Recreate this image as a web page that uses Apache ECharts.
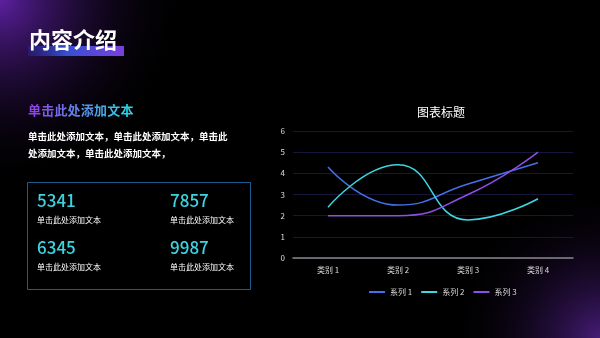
<!DOCTYPE html>
<html><head><meta charset="utf-8">
<script src="https://cdn.jsdelivr.net/npm/echarts@6/dist/echarts.min.js"></script>
<style>html,body{margin:0;padding:0;background:#000;}#c{width:600px;height:338px;}</style>
</head><body><div id="c"></div>
<script>
const categories = ['类别 1', '类别 2', '类别 3', '类别 4'];
const seriesNames = ['系列 1', '系列 2', '系列 3'];
const series1 = [4.3, 2.5, 3.5, 4.5];
const series2 = [2.4, 4.4, 1.8, 2.8];
const series3 = [2.0, 2.0, 3.0, 5.0];
const yTicks = [0, 1, 2, 3, 4, 5, 6];
const statValues = ['5341', '7857', '6345', '9987'];
const statLabel = '单击此处添加文本';
const subHeading = '单击此处添加文本';

const font = '"Noto Sans CJK SC", sans-serif';
const chart = echarts.init(document.getElementById('c'));
const G = echarts.graphic;
const statPos = [[37, 192], [170, 192], [37, 239], [170, 239]];
const graphics = [
  {type:'rect', left:0, top:0, z:-10, shape:{width:600,height:338},
   style:{fill:new G.RadialGradient(0,0,0.55,[{offset:0,color:'rgba(115,40,200,0.8)'},{offset:1,color:'rgba(0,0,0,0)'}])}},
  {type:'rect', left:0, top:0, z:-10, shape:{width:600,height:338},
   style:{fill:new G.RadialGradient(1,1,0.45,[{offset:0,color:'rgba(100,40,170,0.7)'},{offset:1,color:'rgba(0,0,0,0)'}])}},
  {type:'rect', left:28, top:46, shape:{width:96,height:10},
   style:{fill:new G.LinearGradient(0,0,1,0,[{offset:0,color:'rgba(40,60,200,0.25)'},{offset:0.4,color:'#3550d0'},{offset:1,color:'#7b3fe0'}])}},
  {type:'text', left:29, top:29, z:10, style:{text:'内容介绍', fill:'#fff', font:'bold 22px '+font}},
  {type:'text', left:28, top:128, style:{text:'单击此处添加文本，单击此处添加文本，单击此\n处添加文本，单击此处添加文本，', font:'bold 9.5px '+font, fill:'#fff', lineHeight:17}},
  {type:'rect', left:27, top:182, shape:{width:223,height:107}, style:{fill:'rgba(0,0,0,0.3)', stroke:'#1d5c8e', lineWidth:1}}
];
// gradient sub heading, drawn char by char
const c0 = [140, 70, 230], c1 = [45, 210, 230];
const chars = subHeading.split('');
chars.forEach((ch, i) => {
  const t = i / (chars.length - 1);
  const col = 'rgb(' + c0.map((v, k) => Math.round(v + (c1[k] - v) * t)).join(',') + ')';
  graphics.push({type:'text', left:28 + i * 13.2, top:104, style:{text:ch, font:'bold 13px '+font, fill:col}});
});
statValues.forEach((v,i)=>{
  graphics.push({type:'text', left:statPos[i][0], top:statPos[i][1], style:{text:v, font:'500 17px '+font, fill:'#3dd3e0'}});
  graphics.push({type:'text', left:statPos[i][0], top:statPos[i][1]+24, style:{text:statLabel, font:'8px '+font, fill:'#fff'}});
});

const colors = ['#4470e8', '#3fd6e2', '#8f4ee6'];
chart.setOption({
  backgroundColor:'#000',
  color: colors,
  textStyle:{fontFamily:font},
  title:{text:'图表标题', left:436, textAlign:'center', top:101, textStyle:{color:'#fff', fontSize:12, fontWeight:'normal'}},
  legend:{top:283, left:364, itemWidth:16, itemHeight:2, icon:'rect', itemGap:9, textStyle:{color:'#ddd', fontSize:8}, data:seriesNames},
  grid:{left:293, right:27, top:131, bottom:80},
  xAxis:{type:'category', data:categories, axisLine:{lineStyle:{color:'#888', width:1.5}}, axisTick:{show:false},
    axisLabel:{color:'#ddd', fontSize:8, margin:8}},
  yAxis:{type:'value', min:yTicks[0], max:yTicks[yTicks.length-1], interval:1, axisLine:{show:false}, axisTick:{show:false},
    axisLabel:{color:'#ddd', fontSize:8, margin:8}, splitLine:{lineStyle:{color:'#15163a'}}},
  series:[
    {name:seriesNames[0], type:'line', smooth:true, symbol:'none', data:series1, lineStyle:{width:1.5}},
    {name:seriesNames[1], type:'line', smooth:true, symbol:'none', data:series2, lineStyle:{width:1.5}},
    {name:seriesNames[2], type:'line', smooth:true, symbol:'none', data:series3, lineStyle:{width:1.5}}
  ],
  graphic: graphics
});
</script></body></html>
